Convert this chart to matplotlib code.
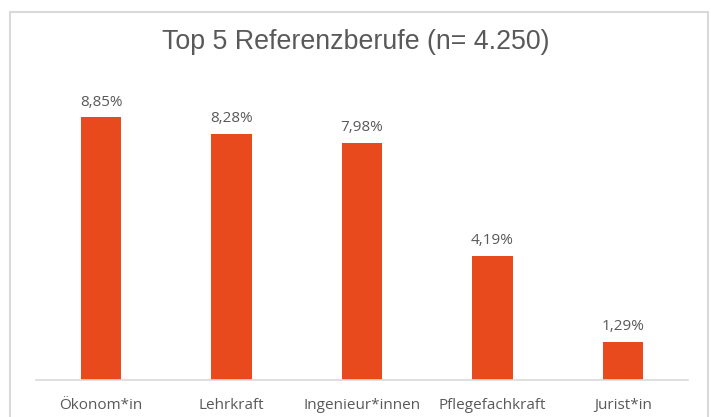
import matplotlib.pyplot as plt
from matplotlib.patches import Rectangle

# data
berufe = ['Ökonom*in', 'Lehrkraft', 'Ingenieur*innen', 'Pflegefachkraft', 'Jurist*in']
anteile = [8.85, 8.28, 7.98, 4.19, 1.29]
labels = ['8,85%', '8,28%', '7,98%', '4,19%', '1,29%']

farbe = '#e8491d'
grau = '#595959'

fig = plt.figure(figsize=(7.11, 4.17), dpi=100)
ax = fig.add_axes([36 / 711, 37 / 417, 652 / 711, 297 / 417])

x = range(len(berufe))
bars = ax.bar(x, anteile, width=0.31, color=farbe, zorder=2)

for b, lab in zip(bars, labels):
    ax.annotate(lab, (b.get_x() + b.get_width() / 2, b.get_height()),
                xytext=(0, 5.5), textcoords='offset points', ha='center', va='bottom',
                fontsize=11, color=grau, family=['Open Sans', 'DejaVu Sans'])

ax.set_xlim(-0.5, len(berufe) - 0.5)
ax.set_ylim(0, 10)
ax.set_xticks(list(x))
ax.set_xticklabels(berufe, fontsize=11, color=grau, family=['Open Sans', 'DejaVu Sans'])
ax.tick_params(axis='x', length=0, pad=13)
ax.set_yticks([])
for s in ['top', 'right', 'left']:
    ax.spines[s].set_visible(False)
ax.spines['bottom'].set_color('#d9d9d9')
ax.spines['bottom'].set_linewidth(1.2)

# title
fig.text(356 / 711, 1 - 42 / 417, 'Top 5 Referenzberufe (n= 4.250)', ha='center', va='center',
         fontsize=19.3, color=grau, family='Liberation Sans')

# chart border
fig.patches.append(Rectangle((10 / 711, -0.1), 698 / 711, 1.1 - 12 / 417,
                             transform=fig.transFigure, fill=False,
                             edgecolor='#d9d9d9', linewidth=1.5))

fig.savefig('out.png', dpi=100)
